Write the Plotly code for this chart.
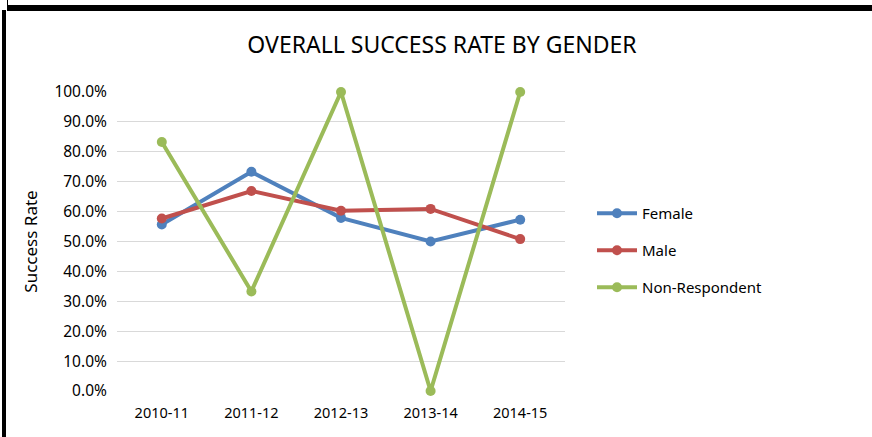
import plotly.graph_objects as go

years = ["2010-11", "2011-12", "2012-13", "2013-14", "2014-15"]
female = [0.557, 0.733, 0.579, 0.500, 0.573]
male = [0.577, 0.669, 0.603, 0.609, 0.508]
non_resp = [0.833, 0.333, 1.000, 0.000, 1.000]
y_ticks = [0.0, 0.1, 0.2, 0.3, 0.4, 0.5, 0.6, 0.7, 0.8, 0.9, 1.0]

W, H = 872, 437
L, R, T, B = 117, 565, 92, 391


def px(x):
    return (x - L) / (R - L)


def py(y):
    return (B - y) / (B - T)


fig = go.Figure()
series = [("Female", female, "#4F81BD"), ("Male", male, "#C0504D"),
          ("Non-Respondent", non_resp, "#9BBB59")]
for name, vals, col in series:
    fig.add_trace(go.Scatter(
        x=years, y=vals, name=name, mode="lines+markers",
        line=dict(color=col, width=4), marker=dict(color=col, size=10),
        cliponaxis=False, legendgroup=name))

fig.update_layout(
    width=W, height=H,
    margin=dict(l=L, r=W - R, t=T, b=H - B, pad=0),
    paper_bgcolor="white", plot_bgcolor="white",
    font=dict(family="Noto Sans", size=13, color="#000000"),
    title=dict(text="OVERALL SUCCESS RATE BY GENDER", x=442 / W, xanchor="center",
               y=1 - 45 / H, yanchor="middle",
               font=dict(size=23, color="#000000")),
    showlegend=True,
    legend=dict(x=px(592), xanchor="left", y=py(197), yanchor="top",
                font=dict(size=15, color="#000000"), tracegroupgap=14.5,
                itemwidth=40, bgcolor="rgba(0,0,0,0)"),
    xaxis=dict(type="category", range=[-0.5, 4.5], showgrid=False,
               showline=False, ticks="outside", ticklen=9,
               tickcolor="rgba(0,0,0,0)", tickfont=dict(size=14.5, color="#000000")),
    yaxis=dict(range=[0, 1], tickvals=y_ticks, tickformat=".1%",
               showgrid=True, gridcolor="#D9D9D9", gridwidth=1,
               zeroline=False, showline=False, ticks="outside", ticklen=6,
               tickcolor="rgba(0,0,0,0)", tickfont=dict(size=15.5, color="#000000"),
               title=dict(text="Success Rate", font=dict(size=17, color="#000000"),
                          standoff=12)),
    shapes=[
        dict(type="rect", xref="paper", yref="paper", x0=px(7), x1=px(872),
             y0=py(11), y1=py(5), fillcolor="black", line=dict(width=0), layer="above"),
        dict(type="rect", xref="paper", yref="paper", x0=px(2), x1=px(6),
             y0=py(437), y1=py(10), fillcolor="black", line=dict(width=0), layer="above"),
        dict(type="rect", xref="paper", yref="paper", x0=px(7), x1=px(8),
             y0=py(5), y1=py(0), fillcolor="black", line=dict(width=0), layer="above"),
    ],
)

fig.write_html("out.html", config={"displayModeBar": False},
               post_script="document.body.style.margin='0';")
